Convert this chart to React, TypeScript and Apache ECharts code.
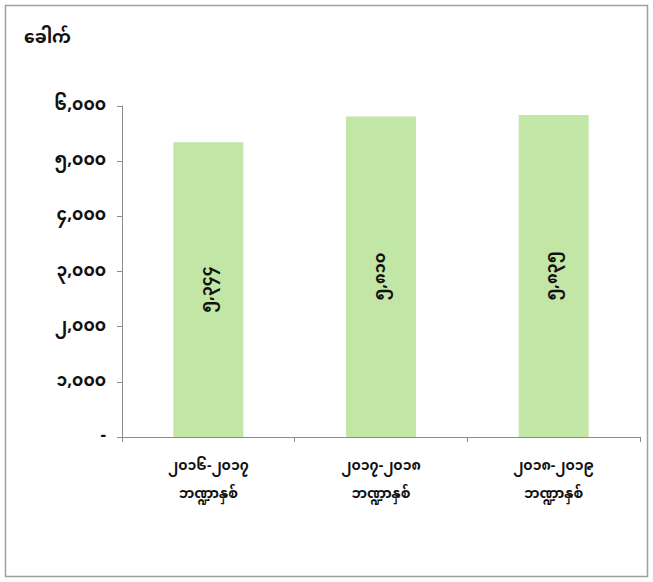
import React, { useEffect, useRef } from "react";
import * as echarts from "echarts";

const unitLabel = "ခေါက်";
const categories = ["၂၀၁၆-၂၀၁၇\nဘဏ္ဍာနှစ်", "၂၀၁၇-၂၀၁၈\nဘဏ္ဍာနှစ်", "၂၀၁၈-၂၀၁၉\nဘဏ္ဍာနှစ်"];
const values = [5344, 5810, 5835];
const yMin = 0;
const yMax = 6000;
const yInterval = 1000;

const myDigits = ["၀", "၁", "၂", "၃", "၄", "၅", "၆", "၇", "၈", "၉"];
function toMy(n: number): string {
  if (n === 0) return "-";
  const s = Math.round(n).toString().replace(/\B(?=(\d{3})+(?!\d))/g, ",");
  return s.replace(/\d/g, (d) => myDigits[+d]);
}

const FONT = "'Noto Sans Myanmar', Padauk, 'Myanmar Text', 'Noto Sans', sans-serif";

export default function App() {
  const ref = useRef<HTMLDivElement>(null);
  useEffect(() => {
    document.body.style.margin = "0";
    if (!ref.current) return;
    const chart = echarts.init(ref.current, undefined, { renderer: "svg" });
    chart.setOption({
      animation: false,
      backgroundColor: "#ffffff",
      textStyle: { fontFamily: FONT },
      graphic: [
        {
          type: "rect",
          shape: { x: 5.5, y: 5.5, width: 642, height: 571 },
          style: { fill: "none", stroke: "#a0a0a0", lineWidth: 1.5 },
          silent: true,
        },
        {
          type: "text",
          left: 24,
          top: 30,
          style: { text: unitLabel, font: `bold 17px ${FONT}`, fill: "#111" },
        },
      ],
      grid: { left: 122, right: 13, top: 106, bottom: 145, containLabel: false },
      xAxis: {
        type: "category",
        data: categories,
        axisLine: { show: true, lineStyle: { color: "#8c8c8c", width: 1 } },
        axisTick: { show: true, alignWithLabel: false, length: 5, lineStyle: { color: "#8c8c8c" } },
        axisLabel: {
          color: "#111",
          fontSize: 14,
          fontWeight: "bold",
          lineHeight: 28,
          margin: 15,
          fontFamily: FONT,
        },
      },
      yAxis: {
        type: "value",
        min: yMin,
        max: yMax,
        interval: yInterval,
        splitLine: { show: false },
        axisLine: { show: true, lineStyle: { color: "#8c8c8c", width: 1 } },
        axisTick: { show: true, length: 5, lineStyle: { color: "#8c8c8c" } },
        axisLabel: {
          color: "#111",
          fontSize: 17,
          fontWeight: "bold",
          margin: 16,
          fontFamily: FONT,
          formatter: (v: number) => toMy(v),
        },
      },
      series: [
        {
          type: "bar",
          data: values,
          barWidth: 70,
          itemStyle: { color: "#c2e6a6" },
          label: {
            show: true,
            position: "inside",
            rotate: 90,
            color: "#111",
            fontSize: 16,
            fontWeight: "bold",
            fontFamily: FONT,
            formatter: (p: any) => toMy(p.value),
          },
        },
      ],
    });
    return () => chart.dispose();
  }, []);
  return <div ref={ref} style={{ width: 653, height: 582 }} />;
}
